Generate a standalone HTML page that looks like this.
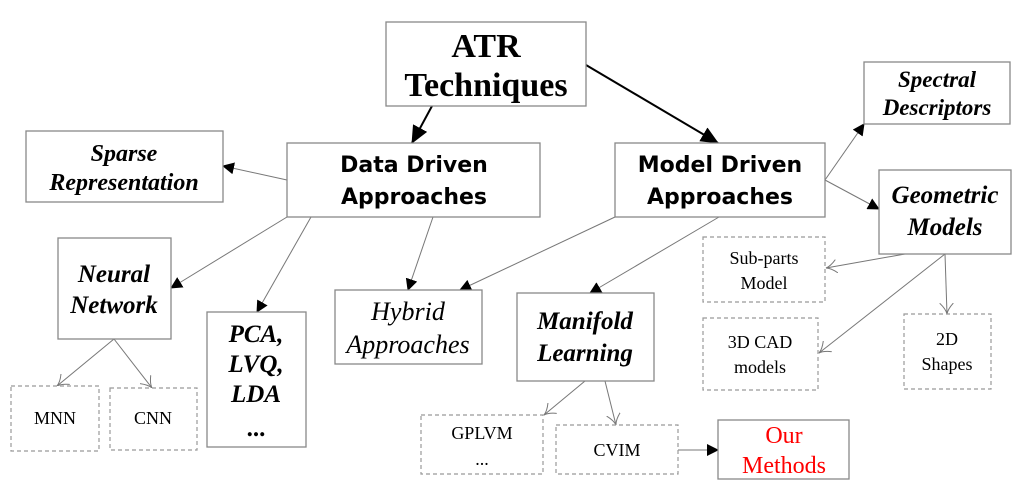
<!DOCTYPE html>
<html><head><style>
body{margin:0;background:#fff;}
svg{display:block}
.b{fill:#fff;stroke:#888;stroke-width:1.3}
.d{fill:#fff;stroke:#999;stroke-width:1.2;stroke-dasharray:4,3}
.s{font-family:"Liberation Serif",serif;}
.bs{font-family:"DejaVu Sans","Liberation Sans",sans-serif;font-weight:bold;}
line{stroke:#777;stroke-width:1}
</style></head><body>
<svg width="1024" height="502" viewBox="0 0 1024 502" xmlns="http://www.w3.org/2000/svg">
<defs>
<marker id="f" markerWidth="12" markerHeight="12" refX="11" refY="6" orient="auto" markerUnits="userSpaceOnUse"><path d="M0,0 L12,6 L0,12 z" fill="#000"/></marker>
<marker id="F" markerWidth="18" markerHeight="16" refX="17" refY="8" orient="auto" markerUnits="userSpaceOnUse"><path d="M0,0 L18,8 L0,16 z" fill="#000"/></marker>
<marker id="o" markerWidth="12" markerHeight="14" refX="11" refY="7" orient="auto" markerUnits="userSpaceOnUse"><path d="M0,0 Q6,6 11,7 Q6,8 0,14" fill="none" stroke="#777" stroke-width="1"/></marker>
</defs>
<!-- connectors -->
<line x1="432" y1="106" x2="412" y2="143" style="stroke:#000;stroke-width:2" marker-end="url(#F)"/>
<line x1="586" y1="65" x2="718" y2="143" style="stroke:#000;stroke-width:2" marker-end="url(#F)"/>
<line x1="287" y1="180" x2="223" y2="166" marker-end="url(#f)"/>
<line x1="287" y1="217" x2="171" y2="288" marker-end="url(#f)"/>
<line x1="311" y1="217" x2="257" y2="312" marker-end="url(#f)"/>
<line x1="433" y1="217" x2="408" y2="290" marker-end="url(#f)"/>
<line x1="615" y1="217" x2="460" y2="290" marker-end="url(#f)"/>
<line x1="719" y1="217" x2="590" y2="293" marker-end="url(#f)"/>
<line x1="825" y1="180" x2="864" y2="124" marker-end="url(#f)"/>
<line x1="825" y1="180" x2="879" y2="209" marker-end="url(#f)"/>
<line x1="905" y1="254" x2="826" y2="268" marker-end="url(#o)"/>
<line x1="945" y1="254" x2="819" y2="353" marker-end="url(#o)"/>
<line x1="945" y1="254" x2="947" y2="314" marker-end="url(#o)"/>
<line x1="114" y1="339" x2="57" y2="386" marker-end="url(#o)"/>
<line x1="114" y1="339" x2="152" y2="388" marker-end="url(#o)"/>
<line x1="585" y1="381" x2="544" y2="415" marker-end="url(#o)"/>
<line x1="605" y1="381" x2="616" y2="425" marker-end="url(#o)"/>
<line x1="678" y1="450" x2="718" y2="450" marker-end="url(#f)"/>
<!-- boxes -->
<rect class="b" x="386" y="22" width="200" height="84"/>
<text class="s" x="486" y="57" font-size="34" font-weight="bold" text-anchor="middle">ATR</text>
<text class="s" x="486" y="96" font-size="34" font-weight="bold" text-anchor="middle">Techniques</text>

<rect class="b" x="26" y="131" width="197" height="71"/>
<text class="s" x="124" y="161" font-size="24" font-weight="bold" font-style="italic" text-anchor="middle">Sparse</text>
<text class="s" x="124" y="190" font-size="24" font-weight="bold" font-style="italic" text-anchor="middle">Representation</text>

<rect class="b" x="287" y="143" width="253" height="74"/>
<text class="bs" x="414" y="172" font-size="22" text-anchor="middle">Data Driven</text>
<text class="bs" x="414" y="204" font-size="22" text-anchor="middle">Approaches</text>

<rect class="b" x="615" y="143" width="210" height="74"/>
<text class="bs" x="720" y="172" font-size="22" text-anchor="middle">Model Driven</text>
<text class="bs" x="720" y="204" font-size="22" text-anchor="middle">Approaches</text>

<rect class="b" x="864" y="62" width="146" height="62"/>
<text class="s" x="937" y="87" font-size="23" font-weight="bold" font-style="italic" text-anchor="middle">Spectral</text>
<text class="s" x="937" y="115" font-size="23" font-weight="bold" font-style="italic" text-anchor="middle">Descriptors</text>

<rect class="b" x="879" y="170" width="132" height="84"/>
<text class="s" x="945" y="203" font-size="25" font-weight="bold" font-style="italic" text-anchor="middle">Geometric</text>
<text class="s" x="945" y="235" font-size="25" font-weight="bold" font-style="italic" text-anchor="middle">Models</text>

<rect class="b" x="58" y="238" width="113" height="101"/>
<text class="s" x="114" y="282" font-size="25" font-weight="bold" font-style="italic" text-anchor="middle">Neural</text>
<text class="s" x="114" y="313" font-size="25" font-weight="bold" font-style="italic" text-anchor="middle">Network</text>

<rect class="b" x="207" y="312" width="99" height="135"/>
<text class="s" x="256" y="342" font-size="25" font-weight="bold" font-style="italic" text-anchor="middle">PCA,</text>
<text class="s" x="256" y="372" font-size="25" font-weight="bold" font-style="italic" text-anchor="middle">LVQ,</text>
<text class="s" x="256" y="402" font-size="25" font-weight="bold" font-style="italic" text-anchor="middle">LDA</text>
<text class="s" x="256" y="436" font-size="25" font-weight="bold" text-anchor="middle">...</text>

<rect class="b" x="335" y="290" width="147" height="74"/>
<text class="s" x="408" y="320" font-size="26" font-style="italic" text-anchor="middle">Hybrid</text>
<text class="s" x="408" y="353" font-size="26" font-style="italic" text-anchor="middle">Approaches</text>

<rect class="b" x="517" y="293" width="137" height="88"/>
<text class="s" x="585" y="329" font-size="25" font-weight="bold" font-style="italic" text-anchor="middle">Manifold</text>
<text class="s" x="585" y="361" font-size="25" font-weight="bold" font-style="italic" text-anchor="middle">Learning</text>

<rect class="d" x="703" y="237" width="122" height="65"/>
<text class="s" x="764" y="264" font-size="18" text-anchor="middle">Sub-parts</text>
<text class="s" x="764" y="289" font-size="18" text-anchor="middle">Model</text>

<rect class="d" x="703" y="318" width="115" height="72"/>
<text class="s" x="760" y="348" font-size="18" text-anchor="middle">3D CAD</text>
<text class="s" x="760" y="373" font-size="18" text-anchor="middle">models</text>

<rect class="d" x="904" y="314" width="87" height="75"/>
<text class="s" x="947" y="345" font-size="18" text-anchor="middle">2D</text>
<text class="s" x="947" y="370" font-size="18" text-anchor="middle">Shapes</text>

<rect class="d" x="11" y="386" width="88" height="65"/>
<text class="s" x="55" y="424" font-size="18" text-anchor="middle">MNN</text>
<rect class="d" x="110" y="388" width="87" height="62"/>
<text class="s" x="153" y="424" font-size="18" text-anchor="middle">CNN</text>

<rect class="d" x="421" y="415" width="122" height="59"/>
<text class="s" x="482" y="439" font-size="18" text-anchor="middle">GPLVM</text>
<text class="s" x="482" y="465" font-size="18" text-anchor="middle">...</text>

<rect class="d" x="556" y="425" width="122" height="49"/>
<text class="s" x="617" y="456" font-size="18" text-anchor="middle">CVIM</text>

<rect class="b" x="718" y="420" width="131" height="59"/>
<text class="s" x="784" y="443" font-size="24" fill="#f00" text-anchor="middle">Our</text>
<text class="s" x="784" y="473" font-size="24" fill="#f00" text-anchor="middle">Methods</text>
</svg>
</body></html>
